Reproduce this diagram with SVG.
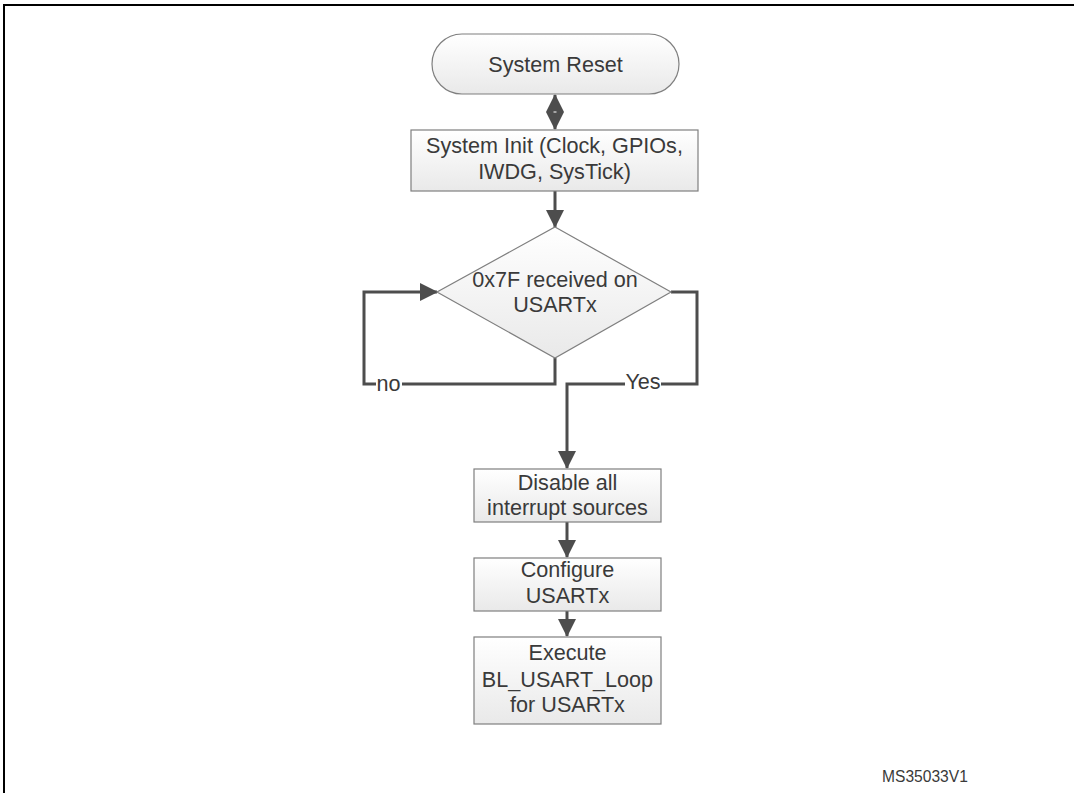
<svg xmlns="http://www.w3.org/2000/svg" width="1074" height="793" viewBox="0 0 1074 793">
<defs>
<linearGradient id="g" x1="0" y1="0" x2="0" y2="1">
<stop offset="0" stop-color="#ffffff"/>
<stop offset="1" stop-color="#e9e9e9"/>
</linearGradient>
<marker id="ah" markerUnits="userSpaceOnUse" markerWidth="18" markerHeight="18" viewBox="0 0 18 18" refX="17" refY="9" orient="auto">
<path d="M0,0 L18,9 L0,18 Z" fill="#4d4d4d"/>
</marker>
<marker id="ahs" markerUnits="userSpaceOnUse" markerWidth="18" markerHeight="18" viewBox="0 0 18 18" refX="1" refY="9" orient="auto">
<path d="M18,0 L0,9 L18,18 Z" fill="#4d4d4d"/>
</marker>
</defs>
<style>
.n{fill:url(#g);stroke:#7f7f7f;stroke-width:1.2}
.t{font-family:"Liberation Sans",Arial,sans-serif;font-size:21.6px;fill:#3a3a3a;text-anchor:middle}
.c{fill:none;stroke:#4d4d4d;stroke-width:3}
.f{fill:none;stroke:#000;stroke-width:2}
</style>
<g id="frame">
<line class="f" x1="3" y1="5" x2="1074" y2="5"/>
<line class="f" x1="4" y1="5" x2="4" y2="793"/>
</g>
<g id="connectors">
<line class="c" x1="555" y1="95" x2="555" y2="129" marker-start="url(#ahs)" marker-end="url(#ah)"/>
<line x1="553.5" y1="112" x2="556.5" y2="112" stroke="#fff" stroke-width="1"/>
<line class="c" x1="555" y1="191" x2="555" y2="227" marker-end="url(#ah)"/>
<polyline class="c" points="555,358 555,384 364,384 364,292 437,292" marker-end="url(#ah)"/>
<polyline class="c" points="671,292 697,292 697,384 567,384 567,468" marker-end="url(#ah)"/>
<line class="c" x1="567" y1="522" x2="567" y2="557" marker-end="url(#ah)"/>
<line class="c" x1="567" y1="611" x2="567" y2="636" marker-end="url(#ah)"/>
<rect x="376" y="372" width="26" height="24" fill="#fff"/>
<text class="t" x="388.5" y="391">no</text>
<rect x="625" y="372" width="36" height="24" fill="#fff"/>
<text class="t" x="643" y="389">Yes</text>
</g>
<g id="reset">
<rect class="n" x="432" y="34" width="247" height="60" rx="30" ry="30"/>
<text class="t" x="555.5" y="72">System Reset</text>
</g>
<g id="init">
<rect class="n" x="411" y="130" width="287" height="61"/>
<text class="t" x="554.5" y="153">System Init (Clock, GPIOs,</text>
<text class="t" x="554.5" y="179">IWDG, SysTick)</text>
</g>
<g id="decision">
<polygon class="n" points="555,227 671,292 555,358 437,292"/>
<text class="t" x="555" y="287">0x7F received on</text>
<text class="t" x="555" y="312">USARTx</text>
</g>
<g id="disable">
<rect class="n" x="474" y="469" width="187" height="53"/>
<text class="t" x="567.5" y="490">Disable all</text>
<text class="t" x="567.5" y="515">interrupt sources</text>
</g>
<g id="configure">
<rect class="n" x="474" y="558" width="187" height="53"/>
<text class="t" x="567.5" y="577">Configure</text>
<text class="t" x="567.5" y="603">USARTx</text>
</g>
<g id="execute">
<rect class="n" x="474" y="637" width="187" height="87"/>
<text class="t" x="567.5" y="660">Execute</text>
<text class="t" x="567.5" y="687">BL_USART_Loop</text>
<text class="t" x="567.5" y="712">for USARTx</text>
</g>
<text x="882" y="782" font-family="&quot;Liberation Sans&quot;,Arial,sans-serif" font-size="15.6" fill="#3a3a3a">MS35033V1</text>
</svg>
